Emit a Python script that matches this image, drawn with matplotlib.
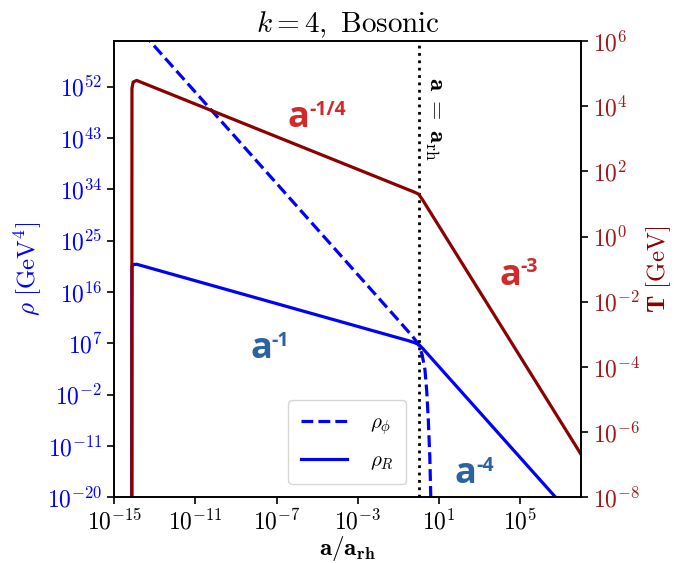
# -*- coding: utf-8 -*-

import matplotlib.pyplot as plt
import numpy as np
from matplotlib.ticker import FixedLocator, FuncFormatter, NullLocator

# log10 values (x = log10(a/a_rh))
phi_loga = [-13.6, -1.0, -0.3, 0.0, 0.17, 0.31, 0.40, 0.475, 0.55, 0.60]
phi_logrho = [61.4, 11.04, 8.2, 6.8, 5.0, 2.35, -1.5, -6.4, -13.0, -20.5]

rad_loga = [-14.14, -14.13, -14.05, -13.9, -0.5, -0.2, 0.0, 0.2, 0.4, 6.8]
rad_logrho = [-25.0, 20.4, 20.8, 20.86, 7.45, 7.1, 6.8, 6.1, 5.3, -20.2]

temp_loga = [-14.14, -14.13, -14.07, -13.9, -0.2, 0.0, 0.2, 8.1]
temp_logT = [-10.0, 4.55, 4.74, 4.79, 1.36, 1.30, 1.12, -6.78]

a_rh = 1.0

xticks = [-15, -11, -7, -3, 1, 5]
rho_ticks = [-20, -11, -2, 7, 16, 25, 34, 43, 52]
temp_ticks = [-8, -6, -4, -2, 0, 2, 4, 6]


def pow10(v, pos):
    return r'$10^{%d}$' % round(np.log10(v))


def main():
    plt.rcParams['mathtext.fontset'] = 'cm'
    plt.rcParams['font.family'] = ['DejaVu Sans']

    fig = plt.figure(figsize=(6.74, 5.63), dpi=100)
    ax = fig.add_axes([0.1696, 0.1167, 0.6924, 0.8105])
    ax2 = ax.twinx()

    ax.plot(10.0 ** np.array(phi_loga), 10.0 ** np.array(phi_logrho),
            color='blue', ls='--', lw=2.3, label=r'$\rho_\phi$')
    ax.plot(10.0 ** np.array(rad_loga), 10.0 ** np.array(rad_logrho),
            color='blue', ls='-', lw=2.3, label=r'$\rho_R$')
    ax.axvline(a_rh, color='black', ls=':', lw=2.0)

    ax2.plot(10.0 ** np.array(temp_loga), 10.0 ** np.array(temp_logT),
             color='darkred', lw=2.3)

    ax.set_xscale('log')
    ax.set_yscale('log')
    ax2.set_yscale('log')
    ax.set_xlim(1e-15, 1e8)
    ax.set_ylim(1e-20, 1e60)
    ax2.set_ylim(1e-8, 1e6)

    fmt = FuncFormatter(pow10)
    ax.xaxis.set_major_locator(FixedLocator([10.0 ** t for t in xticks]))
    ax.yaxis.set_major_locator(FixedLocator([10.0 ** t for t in rho_ticks]))
    ax2.yaxis.set_major_locator(FixedLocator([10.0 ** t for t in temp_ticks]))
    for axis in (ax.xaxis, ax.yaxis, ax2.yaxis):
        axis.set_major_formatter(fmt)
        axis.set_minor_locator(NullLocator())

    ax.tick_params(axis='x', labelsize=17, length=5, width=1.2)
    ax.tick_params(axis='y', labelsize=17, length=5, width=1.2,
                   labelcolor='blue')
    ax2.tick_params(axis='y', labelsize=17, length=5, width=1.2,
                    labelcolor='#a01818')
    for a in (ax, ax2):
        for sp in a.spines.values():
            sp.set_linewidth(1.2)

    ax.set_xlabel(r'$\mathbf{a/a_{rh}}$', fontsize=18, labelpad=0)
    ax.set_ylabel(r'$\rho\ [\mathrm{GeV}^4]$', fontsize=18, color='blue',
                  labelpad=2)
    ax2.set_ylabel(r'$\mathbf{T}\ [\mathrm{GeV}]$', fontsize=18,
                   color='darkred', labelpad=3)
    ax.set_title(r'$k=4,\ \mathrm{Bosonic}$', fontsize=21, pad=6)

    ax.text(0.688, 0.921, r'$\mathbf{a}\;=\;\mathbf{a}_{\mathrm{rh}}$',
            transform=ax.transAxes, rotation=-90, fontsize=18,
            ha='center', va='top')

    # slope annotations
    red = '#d02a2a'
    steel = '#2b62a0'
    slopes = [
        ('-1/4', 0.372, 0.8115, 0.838, red),
        ('-3', 0.826, 0.466, 0.494, red),
        ('-1', 0.291, 0.305, 0.332, steel),
        ('-4', 0.730, 0.031, 0.058, steel),
    ]
    for sup, xa, ya, ys, c in slopes:
        ax.text(xa, ya, 'a', transform=ax.transAxes, fontsize=26,
                family='Open Sans', weight='bold', color=c,
                ha='left', va='baseline')
        ax.text(xa + 0.045, ys, sup, transform=ax.transAxes, fontsize=14,
                family='Open Sans', weight='bold', color=c,
                ha='left', va='baseline')

    ax.legend(loc='lower right', bbox_to_anchor=(0.625, 0.029),
              borderaxespad=0, fontsize=15, handlelength=2.2,
              borderpad=0.6, labelspacing=0.6, handletextpad=1.1)

    fig.savefig('out.png', dpi=100)
    plt.close(fig)


if __name__ == '__main__':
    main()
